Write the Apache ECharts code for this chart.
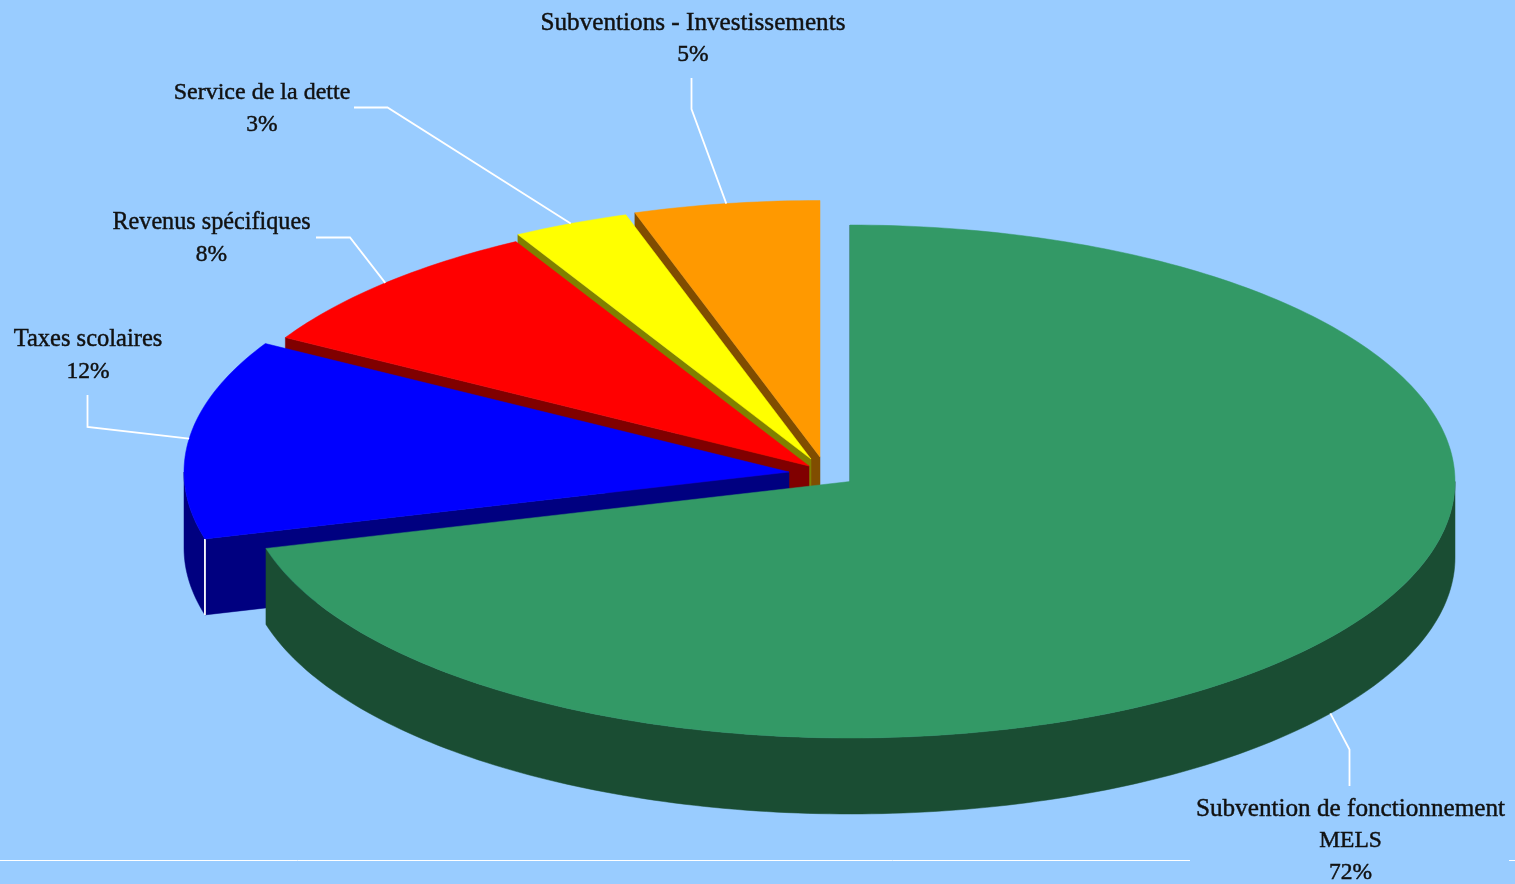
<!DOCTYPE html>
<html>
<head>
<meta charset="utf-8">
<title>Revenus</title>
<style>
html, body { margin: 0; padding: 0; background: #99ccff; overflow: hidden; }
#chart { width: 1515px; height: 884px; }
</style>
<script src="https://cdn.jsdelivr.net/npm/echarts@6/dist/echarts.min.js"></script>
</head>
<body>
<div id="chart"></div>
<script>
// clockwise from 12 o'clock
var categories = ['Subvention de fonctionnement\nMELS', 'Taxes scolaires', 'Revenus spécifiques', 'Service de la dette', 'Subventions - Investissements']
// share of each slice as drawn in the picture
var sliceShares = [70.8, 12.55, 8.6, 3.1, 4.95]
// percentages printed in the labels
var percentLabels = ['72%', '12%', '8%', '3%', '5%']

var topColors = ['#339966', '#0000ff', '#ff0000', '#ffff00', '#ff9900']
var wallColors = ['#1a4d33', '#000080', '#800000', '#808000', '#804d00']

// ellipse radii and wall height
var rx = 605, ry = 256.5, depth = 76
// exploded centre of each slice
var centers = [[850, 481.5], [789, 472], [809, 466], [811, 459], [820, 457]]
// label centre (first line), size of the name line, and the two fixed points of each leader line
var labelPos = [[1350.5, 809], [88, 340], [211.5, 223], [262, 93], [693, 23]]
var labelSizes = [25.2, 24.5, 24.2, 24, 25.2]
var leaders = [
	[[1349.5, 786], [1349.5, 749.5]],
	[[87.5, 395], [87.5, 427]],
	[[316, 237.5], [350, 237.5]],
	[[354, 107.5], [387.5, 107.5]],
	[[691.5, 78], [691.5, 109]]
]

var lineHeight = 32
var total = sliceShares.reduce(function (a, b) { return a + b }, 0)

function toDeg(share) {
	return share / total * 360
}

// start angle of each slice
function startAngle(i) {
	var sum = 0
	for (let k = 0; k < i; k++) sum += sliceShares[k]
	return toDeg(sum)
}

function point(c, deg, drop) {
	var a = deg * Math.PI / 180
	return [c[0] + rx * Math.sin(a), c[1] - ry * Math.cos(a) + drop]
}

function arc(c, from, to, drop) {
	var pts = []
	var n = Math.max(2, Math.ceil(Math.abs(to - from)))
	for (let k = 0; k <= n; k++) pts.push(point(c, from + (to - from) * k / n, drop))
	return pts
}

function poly(points, fill, z2) {
	return { type: 'polygon', z2: z2, shape: { points: points }, style: { fill: fill, stroke: fill, lineWidth: 0.5 } }
}

function line(points, z2) {
	return { type: 'polyline', z2: z2, shape: { points: points }, style: { fill: null, stroke: '#ffffff', lineWidth: 1.8 } }
}

function renderSlice(params, api) {
	var i = api.value(0)
	var c = centers[i]
	var from = startAngle(i)
	var to = from + toDeg(api.value(1))
	// green on top, then back towards the orange slice
	var z = (categories.length - i) * 10
	var kids = []

	// cut face at the start of the slice
	var tip = point(c, from, 0)
	kids.push(poly([tip, c, [c[0], c[1] + depth], [tip[0], tip[1] + depth]], wallColors[i], z))

	// outer wall, only the front half of the ellipse shows
	var a = Math.max(from, 90), b = Math.min(to, 270)
	if (b > a) {
		kids.push(poly(arc(c, a, b, 0).concat(arc(c, b, a, depth)), wallColors[i], z + 1))
		if (from > 90 && from < 270) kids.push(line([tip, [tip[0], tip[1] + depth]], z + 2))
	}

	// top face
	kids.push(poly([c].concat(arc(c, from, to, 0)), topColors[i], z + 3))

	// leader line ends on the rim at the middle of the slice
	var mid = (from + to) / 2
	var end = point(c, mid, mid > 90 && mid < 270 ? depth : 0)
	kids.push(line(leaders[i].concat([end]), 90))

	// label
	var lines = categories[i].split('\n').concat(percentLabels[i])
	lines.forEach(function (t, k) {
		kids.push({
			type: 'text',
			z2: 100,
			style: {
				text: t,
				x: labelPos[i][0],
				y: labelPos[i][1] + k * lineHeight,
				align: 'center',
				verticalAlign: 'middle',
				fill: '#111111',
				stroke: '#111111',
				lineWidth: 0.45,
				font: (k === 0 ? labelSizes[i] : 23.5) + 'px "Liberation Serif"'
			}
		})
	})
	return { type: 'group', children: kids }
}

var chart = echarts.init(document.getElementById('chart'), null, { renderer: 'canvas' })
chart.setOption({
	animation: false,
	backgroundColor: '#99ccff',
	tooltip: { show: false },
	graphic: [
		{ type: 'line', silent: true, shape: { x1: 0, y1: 860.5, x2: 1190, y2: 860.5 }, style: { stroke: '#ffffff', lineWidth: 1 } },
		{ type: 'line', silent: true, shape: { x1: 1509, y1: 860.5, x2: 1515, y2: 860.5 }, style: { stroke: '#ffffff', lineWidth: 1 } }
	],
	series: [{
		type: 'custom',
		coordinateSystem: 'none',
		silent: true,
		renderItem: renderSlice,
		data: sliceShares.map(function (v, i) { return [i, v] })
	}]
})
</script>
</body>
</html>
